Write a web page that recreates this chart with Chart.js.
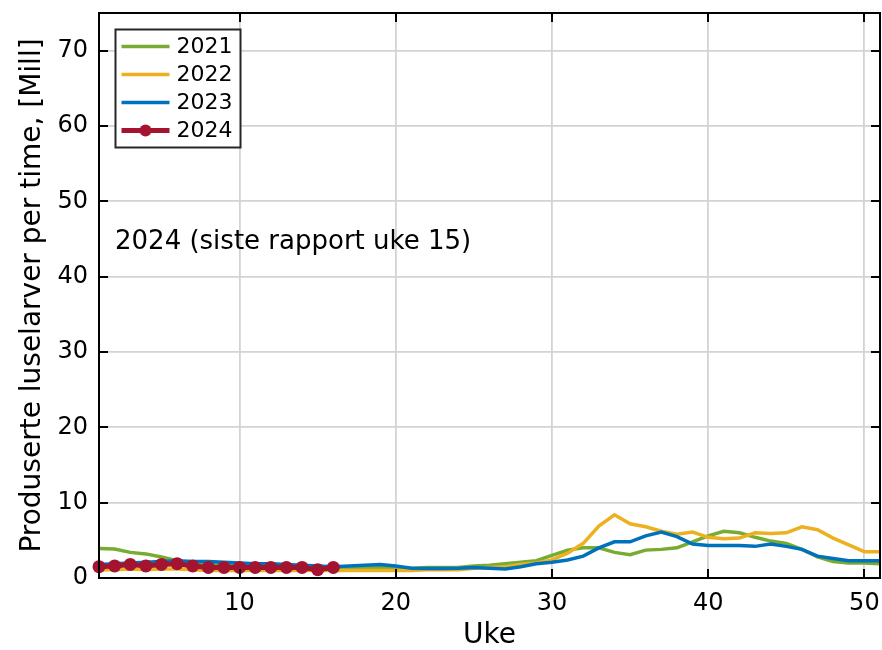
<!DOCTYPE html>
<html><head><meta charset="utf-8">
<script src="https://cdn.jsdelivr.net/npm/chart.js@4.4.1/dist/chart.umd.min.js"></script>
<style>html,body{margin:0;padding:0;background:#fff}#wrap{width:882px;height:650px;position:relative}</style>
</head><body><div id="wrap"><canvas id="c" width="882" height="650"></canvas></div>
<script>
const weeks = [1,2,3,4,5,6,7,8,9,10,11,12,13,14,15,16,17,18,19,20,21,22,23,24,25,26,27,28,29,30,31,32,33,34,35,36,37,38,39,40,41,42,43,44,45,46,47,48,49,50,51];
const weeks2024 = [1,2,3,4,5,6,7,8,9,10,11,12,13,14,15,16];
const v2021 = [3.9,3.85,3.4,3.2,2.8,2.3,2.0,1.9,1.8,1.7,1.6,1.5,1.5,1.4,1.4,1.4,1.4,1.4,1.4,1.4,1.3,1.4,1.4,1.4,1.6,1.7,1.9,2.1,2.3,3.0,3.7,4.0,4.0,3.4,3.1,3.7,3.8,4.0,4.8,5.6,6.2,6.0,5.4,4.9,4.6,3.8,2.8,2.2,2.0,2.0,1.9];
const v2022 = [1.1,1.1,1.2,1.1,1.2,1.2,1.1,1.0,1.0,1.0,1.0,1.0,1.0,1.0,1.0,1.0,1.0,1.0,1.0,1.0,1.0,1.1,1.1,1.1,1.3,1.4,1.5,1.8,2.0,2.4,3.3,4.6,6.9,8.4,7.2,6.8,6.2,5.8,6.1,5.4,5.2,5.3,6.0,5.9,6.0,6.8,6.4,5.3,4.4,3.5,3.5];
const v2023 = [1.8,1.9,2.0,2.1,2.2,2.3,2.2,2.2,2.1,2.0,1.9,1.9,1.8,1.7,1.6,1.5,1.6,1.7,1.8,1.6,1.3,1.25,1.25,1.3,1.4,1.3,1.2,1.5,1.9,2.1,2.4,2.9,4.0,4.8,4.8,5.6,6.1,5.5,4.5,4.3,4.3,4.3,4.2,4.5,4.2,3.8,2.9,2.6,2.3,2.3,2.3];
const v2024 = [1.5,1.6,1.8,1.6,1.8,1.9,1.6,1.4,1.4,1.4,1.4,1.4,1.4,1.4,1.1,1.4];
const seriesLabels = ['2021','2022','2023','2024'];
const seriesColors = ['#77AC30','#EDB120','#0072BD','#A2142F'];
const xTicks = [10,20,30,40,50];
const yTicks = [0,10,20,30,40,50,60,70];
const xTitle = 'Uke';
const yTitle = 'Produserte luselarver per time, [Mill]';
const noteText = '2024 (siste rapport uke 15)';

const FONT = "'DejaVu Sans', sans-serif";
const toXY = (xs, ys) => xs.map((x, i) => ({x: x, y: ys[i]}));

const boxPlugin = {
  id: 'box',
  afterDraw(chart) {
    const {ctx, chartArea: a, scales: {x, y}} = chart;
    ctx.save();
    ctx.strokeStyle = '#000';
    ctx.lineWidth = 2;
    ctx.beginPath();
    ctx.rect(a.left, a.top, a.right - a.left, a.bottom - a.top);
    ctx.stroke();
    const tl = 9;
    ctx.beginPath();
    xTicks.forEach(v => {
      const px = Math.round(x.getPixelForValue(v));
      ctx.moveTo(px, a.bottom); ctx.lineTo(px, a.bottom - tl);
      ctx.moveTo(px, a.top); ctx.lineTo(px, a.top + tl);
    });
    yTicks.forEach(v => {
      const py = Math.round(y.getPixelForValue(v));
      ctx.moveTo(a.left, py); ctx.lineTo(a.left + tl, py);
      ctx.moveTo(a.right, py); ctx.lineTo(a.right - tl, py);
    });
    ctx.stroke();

    // annotation
    ctx.fillStyle = '#000';
    ctx.font = '26px ' + FONT;
    ctx.textBaseline = 'middle';
    ctx.textAlign = 'left';
    ctx.fillText(noteText, a.left + 16, a.top + 229);

    // legend
    const lx = a.left + 16.5, ly = a.top + 16.5, lw = 125, lh = 118;
    ctx.fillStyle = '#fff';
    ctx.fillRect(lx, ly, lw, lh);
    ctx.strokeStyle = '#262626';
    ctx.lineWidth = 2;
    ctx.strokeRect(lx, ly, lw, lh);
    ctx.font = '22px ' + FONT;
    seriesLabels.forEach((lab, i) => {
      const cy = ly + 17 + i * 28;
      ctx.strokeStyle = seriesColors[i];
      ctx.lineWidth = i === 3 ? 5 : 3.5;
      ctx.beginPath();
      ctx.moveTo(lx + 6, cy); ctx.lineTo(lx + 54, cy);
      ctx.stroke();
      if (i === 3) {
        ctx.fillStyle = seriesColors[i];
        ctx.beginPath();
        ctx.arc(lx + 30, cy, 6, 0, Math.PI * 2);
        ctx.fill();
      }
      ctx.fillStyle = '#000';
      ctx.fillText(lab, lx + 61, cy + 1);
    });
    ctx.restore();
  }
};

new Chart(document.getElementById('c'), {
  type: 'line',
  data: {
    datasets: [
      {label: seriesLabels[0], order: 3, data: toXY(weeks, v2021), borderColor: seriesColors[0], borderWidth: 3.5, pointRadius: 0, tension: 0},
      {label: seriesLabels[1], order: 2, data: toXY(weeks, v2022), borderColor: seriesColors[1], borderWidth: 3.5, pointRadius: 0, tension: 0},
      {label: seriesLabels[2], order: 1, data: toXY(weeks, v2023), borderColor: seriesColors[2], borderWidth: 3.5, pointRadius: 0, tension: 0},
      {label: seriesLabels[3], order: 0, data: toXY(weeks2024, v2024), borderColor: seriesColors[3], backgroundColor: seriesColors[3], borderWidth: 5, pointRadius: 6.5, pointBorderWidth: 0, pointBackgroundColor: seriesColors[3], tension: 0, clip: 7}
    ]
  },
  options: {
    responsive: false,
    animation: false,
    devicePixelRatio: 1,
    layout: {autoPadding: false, padding: {left: 0, top: 13, right: 2, bottom: 0}},
    plugins: {legend: {display: false}, tooltip: {enabled: false}},
    scales: {
      x: {
        type: 'linear', min: 1, max: 51,
        afterBuildTicks: s => { s.ticks = xTicks.map(v => ({value: v})); },
        afterFit: s => { s.height = 72; s.paddingLeft = 0; s.paddingRight = 0; },
        grid: {color: '#d3d3d3', lineWidth: 1.8, drawTicks: false},
        border: {display: false},
        ticks: {color: '#000', font: {family: FONT, size: 24}, padding: 11, maxRotation: 0, autoSkip: false},
        title: {display: true, text: xTitle, color: '#000', font: {family: FONT, size: 28}, padding: {top: 0, bottom: -3}}
      },
      y: {
        type: 'linear', min: 0, max: 75,
        afterBuildTicks: s => { s.ticks = yTicks.map(v => ({value: v})); },
        afterFit: s => { s.width = 99; s.paddingTop = 0; s.paddingBottom = 0; },
        grid: {color: '#d3d3d3', lineWidth: 1.8, drawTicks: false},
        border: {display: false},
        ticks: {color: '#000', font: {family: FONT, size: 24}, padding: 11, autoSkip: false},
        title: {display: true, text: yTitle, color: '#000', font: {family: FONT, size: 28}, padding: {top: 16, bottom: 0}}
      }
    }
  },
  plugins: [boxPlugin]
});
</script>
</body></html>
